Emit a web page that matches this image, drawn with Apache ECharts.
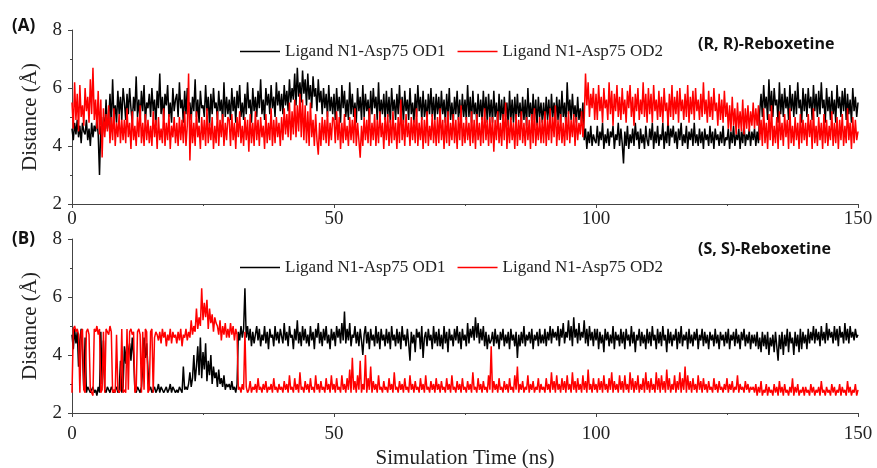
<!DOCTYPE html>
<html>
<head>
<meta charset="utf-8">
<script src="https://cdn.jsdelivr.net/npm/echarts@6/dist/echarts.min.js"></script>
<style>html,body{margin:0;padding:0;background:#fff}#c{width:877px;height:468px}</style>
</head>
<body>
<div id="c"></div>
<script>
// Simulation time step (ns) between stored samples
const dt = 0.25;
const xTicks = [0, 50, 100, 150];
const yTicks = [2, 4, 6, 8];
const seriesNames = ['Ligand N1-Asp75 OD1', 'Ligand N1-Asp75 OD2'];

// Panel A: (R, R)-Reboxetine, distance (Å), one row per 10 ns
const rrOD1 = [
4.6,4.2,4.8,4.4,4.9,4.3,4.7,4.1,4.8,4.5,4.4,4.9,4.2,4.6,4.0,4.8,4.3,4.7,4.5,4.9,
4.4,3.0,4.7,4.2,5.0,4.5,5.6,4.6,4.9,5.8,4.7,6.3,5.0,5.4,4.8,5.9,5.1,5.7,4.9,6.0,
5.5,4.9,5.8,5.1,6.0,5.3,4.8,5.7,5.2,6.4,5.0,5.6,4.9,5.9,5.2,6.1,4.8,5.5,5.3,5.8,
5.0,6.0,5.2,5.6,4.7,5.9,5.3,6.5,5.1,5.7,4.9,5.8,5.4,6.1,5.0,5.5,4.8,6.0,5.2,5.6,
5.8,5.0,6.2,5.3,5.6,4.8,5.9,5.1,6.0,5.4,5.5,4.9,5.7,5.2,6.3,5.0,5.6,4.8,5.9,5.3,
5.4,5.0,6.1,5.2,5.7,4.7,5.8,5.1,6.0,5.3,5.5,4.9,5.9,5.2,5.6,4.8,6.2,5.0,5.7,5.1,
5.6,4.9,6.0,5.2,5.7,4.8,5.9,5.3,6.1,5.0,5.5,4.9,5.8,5.1,6.2,5.3,5.6,4.8,6.0,5.2,
5.7,5.0,5.9,5.3,6.3,5.1,5.6,4.9,6.0,5.4,5.8,5.1,6.1,5.3,5.7,5.0,6.2,5.4,5.9,5.2,
5.8,5.1,6.1,5.4,5.9,5.2,6.3,5.5,6.0,5.6,6.5,5.4,6.7,5.7,6.2,5.5,6.6,5.8,6.3,5.4,
6.5,5.6,6.1,5.3,6.4,5.7,6.0,5.2,6.3,5.5,5.9,5.1,6.0,5.3,5.8,5.0,6.1,5.2,5.7,5.1,
5.8,4.9,6.0,5.2,5.7,4.8,6.1,5.3,5.9,5.0,5.6,4.9,6.2,5.1,5.8,5.0,5.5,4.8,6.0,5.2,
5.7,4.9,6.1,5.0,5.8,5.2,5.6,4.8,5.9,5.1,6.0,5.3,5.7,4.9,6.2,5.0,5.6,5.1,5.8,4.9,
5.9,5.0,5.7,4.8,6.0,5.2,5.6,4.9,5.8,5.1,6.1,5.0,5.7,4.8,5.9,5.2,5.6,4.9,6.0,5.1,
5.5,4.8,5.8,5.0,6.1,5.2,5.7,4.9,5.9,5.0,5.6,4.8,5.8,5.1,6.0,5.0,5.7,4.9,5.8,5.1,
5.7,4.9,5.9,5.1,5.6,4.8,5.8,5.0,6.0,4.9,5.5,4.8,5.7,5.1,5.9,4.9,5.6,4.8,5.8,5.0,
5.6,4.9,6.1,5.0,5.7,4.8,5.9,5.1,5.5,4.8,5.8,5.0,5.6,4.9,5.9,5.0,5.7,4.8,5.8,5.0,
5.6,4.8,5.9,5.0,5.5,4.7,5.8,4.9,5.6,4.8,5.7,5.0,5.5,4.7,5.9,4.9,5.6,4.8,5.7,4.9,
5.8,5.0,5.5,4.8,5.7,4.9,5.6,4.7,6.0,5.0,5.5,4.8,5.8,4.9,5.6,4.7,5.7,5.0,5.5,4.8,
5.5,4.8,5.7,4.9,5.6,4.7,5.8,5.0,5.5,4.8,5.7,4.9,5.6,4.8,5.9,5.0,5.5,4.7,6.2,5.1,
5.6,4.9,5.8,5.0,5.4,4.8,5.7,4.9,5.3,4.8,5.5,4.2,4.6,3.9,4.5,4.1,4.7,4.0,4.4,4.2,
4.1,4.7,4.0,4.5,4.2,4.8,3.9,4.4,4.1,4.6,4.0,4.5,4.3,4.7,3.9,4.4,4.2,4.8,4.0,4.6,
4.1,3.4,4.5,4.0,4.7,3.9,4.4,4.1,4.6,4.0,4.8,4.2,4.5,3.9,4.6,4.1,4.4,3.9,4.7,4.2,
4.0,4.6,4.2,4.8,3.9,4.5,4.1,4.7,4.0,4.4,4.2,4.8,3.9,4.5,4.1,4.9,4.0,4.6,4.3,4.7,
4.1,4.5,3.9,4.6,4.2,4.8,4.0,4.4,4.1,4.7,3.9,4.5,4.2,4.6,4.0,4.8,4.1,4.4,4.0,4.6,
4.1,4.5,3.9,4.6,4.2,4.4,4.0,4.7,4.1,4.5,3.9,4.6,4.2,4.4,4.0,4.5,4.1,4.7,4.0,4.3,
4.2,4.6,3.9,4.5,4.1,4.7,4.0,4.4,4.2,4.6,3.9,4.5,4.1,4.8,4.0,4.4,4.2,4.6,4.0,4.5,
4.2,4.6,4.0,4.5,4.1,5.2,5.8,5.0,6.1,5.3,5.7,4.9,6.3,5.2,5.9,5.0,6.0,5.4,5.6,4.8,
6.2,5.1,5.8,5.0,6.0,5.3,5.7,4.9,6.1,5.2,5.8,5.0,5.9,5.1,6.2,5.3,5.6,4.8,6.0,5.2,
5.8,5.0,6.0,5.3,5.7,4.9,6.1,5.2,5.8,5.0,5.9,5.1,6.2,5.3,5.6,4.8,6.0,5.2,5.7,4.9,
5.9,5.1,5.6,4.8,6.1,5.3,5.7,5.0,5.9,5.2,6.0,4.9,5.8,5.1,5.6,4.8,6.0,5.2,5.7,5.0,5.5
];
const rrOD2 = [
5.5,4.6,6.2,4.9,5.8,4.5,6.1,5.0,5.4,4.7,6.0,5.2,5.7,4.8,6.3,5.1,6.7,4.9,5.6,4.6,
5.9,4.4,5.6,3.6,5.3,4.3,5.1,4.5,5.4,4.1,5.0,4.2,5.3,4.0,4.8,4.3,5.1,4.1,4.9,4.2,
4.9,4.1,5.3,4.3,4.8,3.9,5.2,4.2,4.7,4.0,5.0,4.3,5.4,4.1,4.8,4.0,5.1,4.2,4.9,4.1,
4.7,4.0,5.2,4.3,4.9,3.9,5.0,4.2,4.6,4.1,5.3,4.0,4.8,4.2,5.1,3.9,4.7,4.3,5.0,4.1,
4.8,4.0,5.0,4.2,4.9,4.1,5.2,4.0,4.7,6.5,3.5,5.1,4.1,4.8,4.0,5.2,4.3,4.7,3.9,5.0,
4.2,4.9,4.0,5.3,4.1,4.8,4.2,5.0,3.9,4.7,4.1,5.2,4.0,4.9,4.3,5.1,4.0,4.8,4.2,5.0,
4.9,4.0,5.1,4.2,4.8,3.9,5.0,4.3,5.2,4.1,4.7,4.0,5.0,4.2,4.9,3.8,5.1,4.1,4.8,4.0,
5.2,4.2,4.9,4.0,5.0,4.3,4.7,3.9,5.1,4.1,4.8,4.2,5.3,4.0,4.9,4.1,5.0,4.3,4.8,4.0,
5.0,4.2,5.3,4.4,5.1,4.3,5.5,4.2,5.2,4.4,5.6,4.3,5.4,4.5,5.8,4.3,5.6,4.2,5.4,4.1,
5.2,4.0,5.5,4.3,4.9,4.0,5.1,4.2,3.7,4.8,4.0,5.0,4.2,4.9,4.1,5.2,4.0,4.8,4.2,5.0,
4.9,4.1,5.2,4.2,5.0,3.9,4.8,4.1,5.1,4.2,4.7,4.0,5.0,4.2,4.9,4.1,5.3,4.0,4.8,4.2,
3.6,4.7,4.0,5.0,4.2,4.9,4.1,5.3,4.0,4.8,4.2,5.1,4.0,4.9,4.1,5.2,4.3,4.8,3.9,5.0,
4.2,5.1,4.0,4.9,4.1,5.2,4.2,4.8,3.9,5.0,4.1,5.6,4.2,4.9,4.0,5.1,4.3,4.8,4.0,5.0,
4.2,4.9,4.1,5.3,4.0,4.8,4.2,5.0,3.9,4.9,4.1,5.2,4.0,4.7,4.2,5.1,4.1,4.9,4.0,5.0,
4.1,5.3,4.2,4.9,3.9,5.0,4.1,5.2,4.0,4.8,4.2,5.1,4.1,4.9,3.9,5.0,4.2,5.4,4.0,4.8,
4.1,5.0,4.2,4.8,4.0,5.2,4.1,4.9,3.9,5.1,4.2,4.8,4.0,5.0,4.1,5.3,4.2,4.9,4.0,5.0,
4.1,5.0,3.8,4.9,4.2,5.2,4.1,4.8,4.0,5.1,4.2,5.5,3.9,4.9,4.1,5.0,4.2,4.8,3.9,5.1,
4.0,4.9,4.2,5.2,4.1,4.8,4.0,5.0,4.2,4.9,3.9,5.1,4.1,5.3,4.0,4.8,4.2,5.0,4.1,4.9,
4.1,5.2,4.0,4.9,4.2,5.3,4.1,5.0,4.3,5.4,4.0,4.9,4.2,5.1,4.1,4.8,4.0,5.0,4.2,5.2,
4.1,4.9,4.3,5.1,4.0,5.0,4.2,4.8,4.4,5.2,4.3,4.9,6.5,5.4,6.2,5.0,5.8,5.3,6.0,4.9,
5.8,4.9,6.1,5.2,5.7,4.8,6.0,5.3,5.6,4.9,6.2,5.1,5.9,4.7,5.8,5.2,6.1,5.0,5.7,4.9,
6.0,5.1,5.6,4.8,5.9,5.3,6.1,5.0,5.7,4.7,5.8,5.2,6.0,4.9,5.6,5.1,6.2,5.0,5.8,4.8,
6.0,5.1,5.8,4.8,6.1,5.2,5.6,4.9,5.9,5.0,5.7,4.8,6.0,5.2,5.5,4.7,5.8,5.0,6.1,4.9,
5.7,5.1,5.9,4.8,6.0,5.2,5.6,4.9,5.8,5.0,6.1,4.8,5.7,5.1,5.9,4.9,6.0,5.2,5.6,4.9,
5.8,5.0,6.2,5.1,5.6,4.8,5.9,5.0,5.7,4.9,6.0,5.2,5.5,4.7,5.8,4.9,5.6,4.8,5.9,5.0,
5.5,4.6,5.4,4.5,5.7,4.7,5.3,4.4,5.5,4.6,5.2,4.5,5.6,4.4,5.3,4.6,5.4,4.5,5.2,4.7,
5.5,4.6,5.3,4.7,5.4,4.2,4.9,4.0,5.3,4.1,4.8,3.9,5.1,4.2,5.4,4.0,4.7,4.1,5.0,3.9,
5.2,4.2,4.8,4.0,5.1,4.3,4.9,3.9,5.3,4.1,4.7,4.0,5.0,4.2,4.8,3.9,5.1,4.1,4.9,4.2,
4.8,4.0,5.1,4.3,4.9,3.9,5.3,4.1,4.7,4.0,5.0,4.2,4.8,3.9,5.1,4.1,4.9,4.0,4.7,4.2,
5.2,4.0,4.8,4.1,5.0,3.9,4.9,4.2,5.1,4.0,4.7,4.1,5.3,4.2,4.8,3.9,5.0,4.1,4.9,4.2,4.5
];

// Panel B: (S, S)-Reboxetine, distance (Å), one row per 10 ns
const ssOD1 = [
4.7,4.2,4.9,4.4,4.8,3.6,4.5,4.9,4.1,2.8,4.6,2.7,2.9,2.8,2.7,2.8,2.9,2.7,2.8,2.6,
2.9,2.7,4.8,3.0,4.5,2.8,2.7,2.9,2.8,2.7,2.9,2.8,2.7,2.8,2.9,2.7,2.8,3.8,2.7,2.9,
4.3,3.7,4.5,3.9,4.4,3.8,4.6,4.0,2.8,2.7,2.9,2.8,2.7,2.9,3.6,4.6,3.9,4.4,3.5,2.8,
2.9,2.7,2.8,2.9,2.7,2.8,3.0,2.7,2.9,2.8,2.7,2.8,2.9,2.7,2.8,3.0,2.7,2.9,2.8,2.7,
2.8,2.7,2.9,2.8,2.7,3.6,2.8,2.9,2.8,3.0,3.4,2.9,3.2,4.0,3.1,3.6,4.3,3.3,4.6,3.2,
4.1,3.5,4.4,3.1,3.8,3.3,4.0,3.0,3.6,3.2,3.4,2.9,3.5,3.0,3.2,2.9,3.3,2.8,3.0,2.9,
3.0,2.8,3.1,2.8,2.9,2.7,3.0,4.8,4.5,5.0,4.6,4.9,6.3,4.6,5.0,4.5,4.9,4.3,4.8,4.4,
4.4,5.0,4.5,4.9,4.3,4.7,4.5,5.0,4.4,4.8,4.2,4.9,4.6,4.7,4.3,5.0,4.5,4.8,4.4,4.9,
4.9,4.4,5.1,4.5,4.8,4.3,5.0,4.6,4.7,4.2,4.9,4.5,5.2,4.4,4.8,4.3,5.0,4.5,4.9,4.4,
4.7,4.3,5.0,4.5,4.8,4.2,4.9,4.6,5.1,4.4,4.8,4.3,4.9,4.5,5.0,4.4,4.7,4.2,4.9,4.5,
4.8,4.3,5.0,4.6,4.9,4.4,5.1,4.5,5.5,4.4,4.9,4.5,5.1,4.3,4.7,4.6,5.0,4.4,4.8,4.3,
4.9,4.5,4.0,4.7,5.0,4.4,4.8,4.2,4.9,4.5,4.7,4.3,5.0,4.4,4.8,4.2,4.9,4.5,4.7,4.3,
4.9,4.4,4.8,4.2,5.0,4.5,4.7,4.3,4.9,4.4,4.8,4.2,5.0,4.5,4.7,4.3,4.9,4.4,3.8,4.8,
4.4,4.7,4.1,4.9,4.6,4.8,4.2,5.0,3.9,4.6,4.8,4.3,4.9,4.5,4.7,4.2,5.0,4.4,4.8,4.3,
4.9,4.3,4.7,4.2,5.0,4.4,4.8,4.1,4.9,4.5,4.7,4.3,4.9,4.5,5.0,4.4,4.8,4.2,4.9,4.5,
4.7,4.3,5.1,4.4,4.9,4.6,5.0,4.5,5.3,4.6,5.1,4.4,4.9,4.5,5.0,4.3,4.8,4.2,4.7,4.4,
4.5,4.8,4.3,4.9,4.4,4.7,4.2,4.8,4.5,4.9,4.3,4.7,4.4,4.8,4.2,4.9,4.5,4.7,4.3,4.8,
3.9,4.7,4.3,4.8,4.4,5.0,4.3,4.7,4.5,4.8,4.4,4.9,4.2,4.7,4.5,4.8,4.3,4.9,4.4,4.7,
4.4,4.9,4.3,4.8,4.5,5.0,4.4,4.9,4.6,4.8,4.5,5.0,4.3,4.9,4.6,5.1,4.4,4.8,4.6,5.2,
4.5,5.0,4.3,5.3,4.6,4.9,4.4,5.1,4.5,4.8,4.6,5.2,4.4,4.9,4.3,5.0,4.5,4.8,4.3,4.9,
4.5,4.9,4.2,4.8,4.4,4.7,4.1,4.9,4.5,4.8,4.3,4.7,4.4,5.0,4.2,4.8,4.5,4.7,4.3,4.9,
4.4,4.8,4.2,4.9,4.5,4.7,4.3,5.0,4.4,4.8,4.1,4.7,4.5,4.9,4.3,4.8,4.4,4.7,4.2,4.9,
4.4,4.8,4.3,5.0,4.5,4.7,4.2,4.9,4.4,4.8,4.3,5.0,4.5,4.7,4.1,4.9,4.4,4.8,4.3,4.7,
4.5,4.9,4.2,4.8,4.4,5.0,4.3,4.7,4.5,4.8,4.2,4.9,4.4,4.7,4.3,4.8,4.5,4.9,4.2,4.7,
4.5,4.9,4.3,4.8,4.4,4.7,4.2,4.8,4.5,4.7,4.3,4.9,4.4,4.7,4.2,4.8,4.5,4.7,4.3,4.8,
4.4,4.9,4.2,4.7,4.5,4.8,4.3,4.9,4.4,4.7,4.2,4.8,4.5,4.9,4.3,4.7,4.4,4.8,4.2,4.7,
4.4,4.7,4.3,4.8,4.2,4.6,4.1,4.8,4.3,4.7,4.2,4.8,4.0,4.6,4.3,4.7,4.1,4.8,4.3,3.8,
4.7,4.2,4.8,4.0,4.7,4.3,4.9,4.1,4.8,4.4,4.6,4.0,4.8,4.3,4.7,4.1,4.9,4.2,4.8,4.4,
4.7,4.2,4.9,4.4,4.8,4.5,5.0,4.4,4.9,4.5,4.8,4.3,5.0,4.5,4.8,4.4,5.1,4.5,4.9,4.6,
4.8,4.4,5.0,4.5,4.9,4.3,5.0,4.6,4.8,4.4,5.1,4.5,4.9,4.4,5.0,4.6,4.8,4.5,4.9,4.6,4.7
];
const ssOD2 = [
2.7,4.9,5.0,4.8,4.9,4.7,2.7,4.8,4.9,2.8,2.7,4.8,4.9,4.7,2.8,2.7,2.6,4.9,4.8,5.0,
4.7,4.9,2.7,2.8,4.8,2.7,4.9,4.8,4.7,5.0,4.8,2.7,2.8,2.7,4.7,2.8,2.7,2.8,4.9,2.7,
2.8,2.7,4.9,2.8,4.8,4.9,4.7,4.8,2.7,2.8,4.8,4.9,4.7,2.7,4.8,2.8,4.9,4.8,2.7,2.8,
4.8,4.9,2.7,4.6,4.8,4.7,4.5,4.8,4.4,4.9,4.6,4.8,4.3,4.7,4.5,4.9,4.4,4.8,4.6,4.7,
4.4,4.8,4.5,4.9,4.3,4.7,4.6,4.9,4.5,4.8,4.6,5.2,4.7,5.0,4.8,5.6,4.9,5.3,5.0,6.3,
5.2,5.8,5.3,5.9,4.9,5.6,5.1,5.4,4.8,5.3,5.1,5.0,4.7,5.2,4.5,5.0,4.7,5.1,4.6,4.9,
4.6,5.1,4.7,5.0,4.5,4.9,4.7,2.8,2.9,2.7,3.0,2.8,4.8,2.9,2.7,2.8,3.1,2.7,2.9,2.8,
3.0,2.7,3.2,2.8,2.9,2.7,3.0,2.8,3.1,2.7,2.9,2.8,3.0,2.7,3.2,2.8,2.9,2.7,3.0,2.8,
2.9,2.7,3.1,2.8,3.0,2.7,3.3,2.8,2.9,2.7,3.2,2.8,3.0,2.7,3.4,2.8,2.9,2.7,3.1,2.8,
3.0,2.7,3.2,2.8,2.9,2.7,3.3,2.8,3.0,2.7,3.1,2.8,2.9,2.7,3.2,2.8,3.0,2.7,3.3,2.8,
3.0,2.7,3.2,2.8,2.9,2.7,3.3,2.8,3.0,2.7,3.2,2.8,3.5,2.7,3.9,2.8,3.1,2.7,3.3,2.8,
3.8,2.7,3.0,2.8,4.0,2.7,3.2,2.8,3.6,2.7,3.1,2.8,3.0,2.7,3.3,2.8,2.9,2.7,3.1,2.8,
2.9,2.7,3.2,2.8,3.0,2.7,3.4,2.8,2.9,2.7,3.1,2.8,3.0,2.7,3.2,2.8,2.9,2.7,3.3,2.8,
3.0,2.7,3.1,2.8,2.9,2.7,3.2,2.8,3.0,2.7,3.3,2.8,2.9,2.7,3.1,2.8,3.0,2.7,3.2,2.8,
3.0,2.7,3.1,2.8,2.9,2.7,3.2,2.8,3.0,2.7,3.3,2.8,2.9,2.7,3.1,2.8,3.0,2.7,3.2,2.8,
2.9,2.7,3.1,2.8,3.0,2.7,3.4,2.8,2.9,2.7,3.2,2.8,3.0,2.7,3.1,2.8,2.9,2.7,3.3,2.8,
4.3,2.7,3.1,2.8,3.0,2.7,3.2,2.8,2.9,2.7,3.1,2.8,3.0,2.7,3.2,2.8,2.9,2.7,3.3,2.8,
3.6,2.7,3.0,2.8,3.1,2.7,2.9,2.8,3.3,2.7,3.0,2.8,3.1,2.7,2.9,2.8,3.2,2.7,3.0,2.8,
2.9,2.7,3.2,2.8,3.0,2.7,3.4,2.8,3.1,2.7,3.3,2.8,3.0,2.7,3.2,2.8,3.1,2.7,3.3,2.8,
3.0,2.7,3.4,2.8,3.1,2.7,3.2,2.8,3.0,2.7,3.3,2.8,3.1,2.7,3.5,2.8,3.0,2.7,3.2,2.8,
3.0,2.7,3.2,2.8,3.1,2.7,3.3,2.8,3.0,2.7,3.2,2.8,3.4,2.7,3.1,2.8,3.0,2.7,3.3,2.8,
3.1,2.7,3.3,2.8,3.0,2.7,3.4,2.8,3.2,2.7,3.1,2.8,3.3,2.7,3.0,2.8,3.2,2.7,3.4,2.8,
3.1,2.7,3.2,2.8,3.0,2.7,3.4,2.8,3.2,2.7,3.3,2.8,3.1,2.7,3.5,2.8,3.2,2.7,3.0,2.8,
3.3,2.7,3.1,2.8,3.4,2.7,3.2,2.8,3.6,2.7,3.3,2.8,3.1,2.7,3.2,2.8,3.0,2.7,3.3,2.8,
3.1,2.7,3.2,2.8,3.0,2.7,3.1,2.8,2.9,2.7,3.2,2.8,3.0,2.7,3.1,2.8,2.9,2.7,3.0,2.8,
3.2,2.7,3.0,2.8,3.1,2.7,2.9,2.8,3.3,2.7,3.0,2.8,2.9,2.7,3.1,2.8,3.0,2.7,2.9,2.8,
2.9,2.7,3.0,2.6,2.9,2.7,3.1,2.6,2.8,2.7,3.0,2.6,2.9,2.7,2.8,2.6,3.0,2.7,2.9,2.6,
3.1,2.7,2.9,2.6,3.0,2.7,2.8,2.6,2.9,2.7,3.2,2.6,2.9,2.7,3.0,2.6,2.8,2.7,2.9,2.6,
2.9,2.7,2.8,2.6,3.0,2.7,2.9,2.6,2.8,2.7,2.9,2.6,3.1,2.7,2.8,2.6,2.9,2.7,2.8,2.6,
3.0,2.7,2.9,2.6,2.8,2.7,3.0,2.6,2.9,2.7,2.8,2.6,3.1,2.7,2.9,2.6,2.8,2.7,3.0,2.6,2.8
];

const pairs = arr => arr.map((v, i) => [i * dt, v]);
const serif = 'Liberation Serif';
const sans = 'Open Sans';

function xAxisFor(gi, margin) {
  return {
    type: 'value', gridIndex: gi, min: xTicks[0], max: xTicks[xTicks.length - 1],
    interval: xTicks[1] - xTicks[0],
    axisLine: { show: true, onZero: false, lineStyle: { color: '#444', width: 1 } },
    axisTick: { show: true, inside: false, length: 4, lineStyle: { color: '#444' } },
    minorTick: { show: true, splitNumber: 2, length: 2, lineStyle: { color: '#444' } },
    splitLine: { show: false },
    axisLabel: { fontFamily: serif, fontSize: 19, color: '#222', margin: margin }
  };
}
function yAxisFor(gi) {
  return {
    type: 'value', gridIndex: gi, min: yTicks[0], max: yTicks[yTicks.length - 1],
    interval: yTicks[1] - yTicks[0],
    axisLine: { show: true, onZero: false, lineStyle: { color: '#444', width: 1 } },
    axisTick: { show: true, inside: false, length: 4, lineStyle: { color: '#444' } },
    minorTick: { show: true, splitNumber: 2, length: 2, lineStyle: { color: '#444' } },
    splitLine: { show: false },
    axisLabel: { fontFamily: serif, fontSize: 19, color: '#222', margin: 10 }
  };
}
function lineSeries(name, data, gi, color) {
  return {
    name: name, type: 'line', xAxisIndex: gi, yAxisIndex: gi,
    data: pairs(data), symbol: 'none', showSymbol: false, sampling: null,
    lineStyle: { color: color, width: 1.5 }, itemStyle: { color: color },
    emphasis: { disabled: true }, silent: true, z: color === '#ff0000' ? 3 : 2
  };
}
function legendAt(top) {
  return {
    data: seriesNames, left: 235, top: top, orient: 'horizontal',
    icon: 'rect', itemWidth: 40, itemHeight: 1.5, itemGap: 12,
    textStyle: { fontFamily: serif, fontSize: 17, color: '#222' }, selectedMode: false
  };
}

const chart = echarts.init(document.getElementById('c'), null, { renderer: 'canvas' });
chart.setOption({
  animation: false,
  backgroundColor: '#fff',
  grid: [
    { left: 72, right: 19, top: 30, height: 174 },
    { left: 72, right: 19, top: 239, height: 174 }
  ],
  xAxis: [xAxisFor(0, 6), xAxisFor(1, 12)],
  yAxis: [yAxisFor(0), yAxisFor(1)],
  legend: [legendAt(38), legendAt(254)],
  series: [
    lineSeries(seriesNames[0], rrOD1, 0, '#000000'),
    lineSeries(seriesNames[1], rrOD2, 0, '#ff0000'),
    lineSeries(seriesNames[0], ssOD1, 1, '#000000'),
    lineSeries(seriesNames[1], ssOD2, 1, '#ff0000')
  ],
  graphic: [
    { type: 'text', left: 12, top: 18, style: { text: '(A)', font: 'bold 17px "' + sans + '"', fill: '#111' } },
    { type: 'text', left: 12, top: 231, style: { text: '(B)', font: 'bold 17px "' + sans + '"', fill: '#111' } },
    { type: 'text', left: 698, top: 36, style: { text: '(R, R)-Reboxetine', font: 'bold 16px "' + sans + '"', fill: '#111' } },
    { type: 'text', left: 698, top: 241, style: { text: '(S, S)-Reboxetine', font: 'bold 16px "' + sans + '"', fill: '#111' } },
    { type: 'text', x: 30, y: 117, rotation: Math.PI / 2, style: { text: 'Distance (Å)', font: '21px "' + serif + '"', fill: '#222', align: 'center', verticalAlign: 'middle' } },
    { type: 'text', x: 30, y: 326, rotation: Math.PI / 2, style: { text: 'Distance (Å)', font: '21px "' + serif + '"', fill: '#222', align: 'center', verticalAlign: 'middle' } },
    { type: 'text', x: 465, y: 458, style: { text: 'Simulation Time (ns)', font: '21px "' + serif + '"', fill: '#222', align: 'center', verticalAlign: 'middle' } }
  ]
});
</script>
</body>
</html>
